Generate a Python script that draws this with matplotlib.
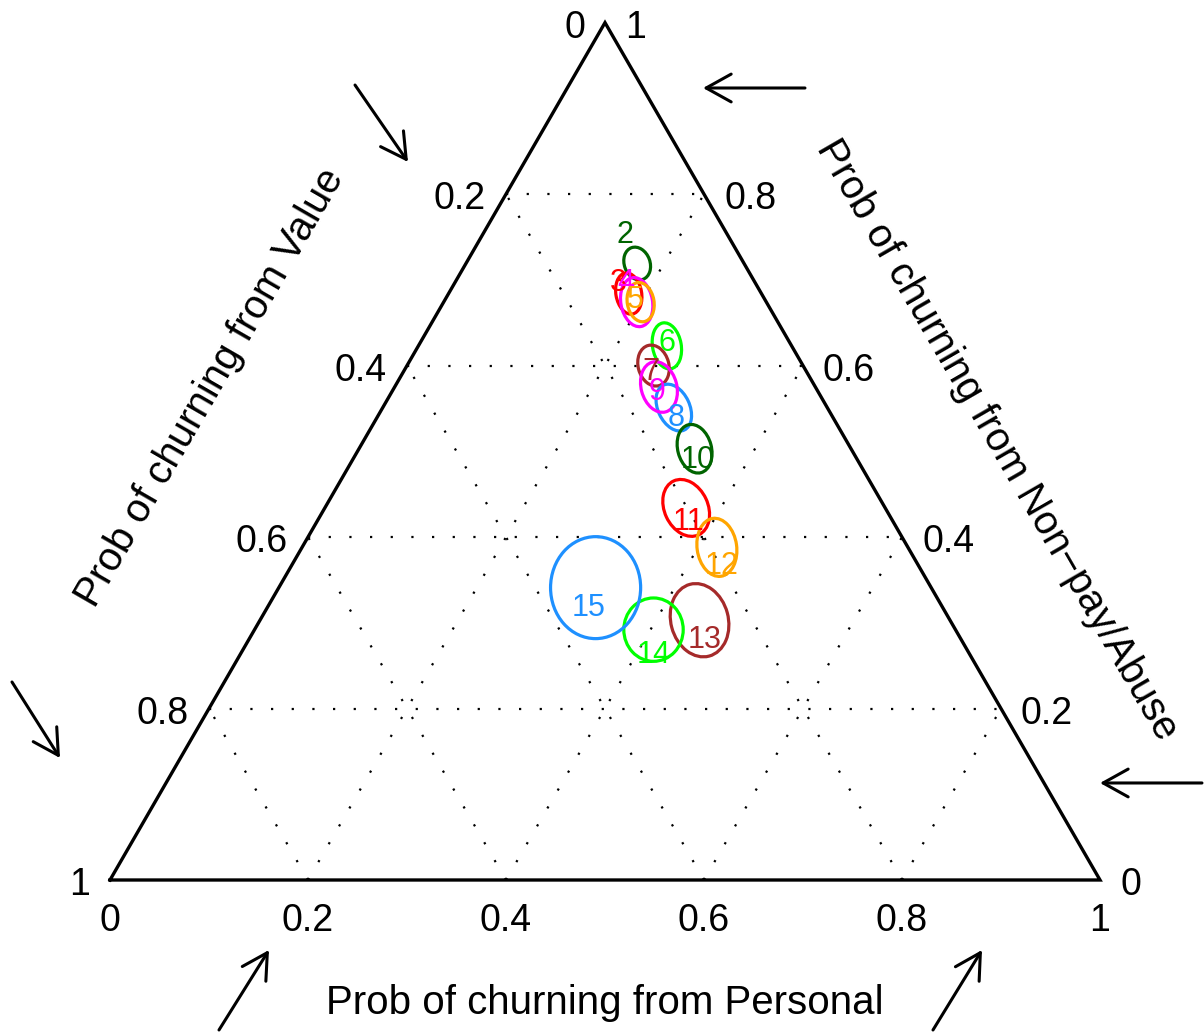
import numpy as np
import matplotlib.pyplot as plt
from matplotlib.patches import Ellipse

plt.rcParams["font.family"] = ["Liberation Sans", "DejaVu Sans"]

# churn groups drawn as contours; centres are (Personal, Non-pay/Abuse) shares,
# the Value share is whatever is left
groups = [2, 3, 4, 5, 6, 7, 8, 9, 10, 11, 12, 13, 14, 15]
personal = [0.173, 0.182, 0.195, 0.199, 0.251, 0.249, 0.294, 0.267,
            0.339, 0.365, 0.419, 0.444, 0.403, 0.320]
nonpay = [0.719, 0.684, 0.674, 0.674, 0.623, 0.600, 0.551, 0.575,
          0.503, 0.434, 0.388, 0.303, 0.292, 0.341]
# spread of each contour (across, along, in units of the triangle side) and tilt
spread_w = [0.026, 0.026, 0.032, 0.027, 0.029, 0.031, 0.032, 0.036,
            0.034, 0.044, 0.040, 0.058, 0.060, 0.091]
spread_h = [0.034, 0.042, 0.050, 0.040, 0.047, 0.042, 0.050, 0.052,
            0.050, 0.060, 0.059, 0.075, 0.064, 0.103]
tilt = [20, 10, 10, 10, 10, 15, 25, 15, 15, 25, 8, 15, 0, 0]

colors = ["#006400", "#FF0000", "#FF00FF", "#FFA500", "#00FF00", "#A52A2A",
          "#1E90FF", "#FF00FF", "#006400", "#FF0000", "#FFA500", "#A52A2A",
          "#00FF00", "#1E90FF"]
# where each contour label sits relative to its centre (pixels)
label_offsets = [(-12, 29), (-10, 11), (-11, 19), (-5, 2), (0, 3), (-3, -6),
                 (2, -10), (-2, -5), (3, -11), (2, -14), (5, -19), (5, -20),
                 (0, -25), (-7, -20)]

ticks = [0, 0.2, 0.4, 0.6, 0.8, 1]
tick_labels = ["0", "0.2", "0.4", "0.6", "0.8", "1"]

H = np.sqrt(3) / 2


def tern_xy(p, n):
    return p + n / 2, n * H


fig = plt.figure(figsize=(12.04, 10.34), dpi=100)
ax = fig.add_axes([0, 0, 1, 1])
ax.set_xlim(-110 / 990, 1094 / 990)
ax.set_ylim(-154 / 990, 880 / 990)
ax.set_aspect("equal")
ax.axis("off")

# dotted grid
for k in ticks[1:-1]:
    segs = [
        (tern_xy(0, k), tern_xy(1 - k, k)),       # Non-pay/Abuse = k
        (tern_xy(k, 0), tern_xy(k, 1 - k)),       # Personal = k
        (tern_xy(1 - k, 0), tern_xy(0, 1 - k)),   # Value = k
    ]
    for a, b in segs:
        ax.plot([a[0], b[0]], [a[1], b[1]], color="black", lw=1.6,
                linestyle=(0, (1, 8.3)), zorder=1)

# triangle outline
tri = np.array([tern_xy(0, 0), tern_xy(1, 0), tern_xy(0, 1), tern_xy(0, 0)])
ax.plot(tri[:, 0], tri[:, 1], color="black", lw=2.4, solid_joinstyle="miter",
        zorder=3)

# contours
for i, g in enumerate(groups):
    cx, cy = tern_xy(personal[i], nonpay[i])
    ax.add_patch(Ellipse((cx, cy), spread_w[i], spread_h[i], angle=tilt[i],
                         fill=False, ec=colors[i], lw=2.3, zorder=4))
    ax.annotate(str(g), (cx, cy), xytext=label_offsets[i],
                textcoords="offset pixels", ha="center", va="center",
                color=colors[i], fontsize=22, zorder=5)

# tick labels
tick_fs = 27
for t, lab in zip(ticks, tick_labels):
    # bottom axis: Personal
    ax.annotate(lab, tern_xy(t, 0), xytext=(0, -51), textcoords="offset pixels",
                ha="center", va="baseline", fontsize=tick_fs)
    # left axis: Value (0 at top, 1 at bottom-left)
    ax.annotate(lab, tern_xy(0, 1 - t), xytext=(-20, -15),
                textcoords="offset pixels", ha="right", va="baseline",
                fontsize=tick_fs)
    # right axis: Non-pay/Abuse (0 at bottom-right, 1 at top)
    ax.annotate(lab, tern_xy(1 - t, t), xytext=(20, -15),
                textcoords="offset pixels", ha="left", va="baseline",
                fontsize=tick_fs)

# axis titles
title_fs = 29
ax.text(0.5, -0.1354, "Prob of churning from Personal", ha="center",
        va="baseline", fontsize=title_fs)
ax.text(0.1010, 0.4970, "Prob of churning from Value", ha="center",
        va="center", rotation=60, rotation_mode="anchor", fontsize=title_fs)
ax.text(0.8960, 0.4444, "Prob of churning from Non\u2212pay/Abuse", ha="center",
        va="center", rotation=-60, rotation_mode="anchor", fontsize=title_fs)

# direction arrows
arrows = [
    ((0.2475, 0.8030), (0.3010, 0.7253)),
    ((-0.0990, 0.2000), (-0.0505, 0.1232)),
    ((0.7020, 0.8000), (0.5990, 0.8000)),
    ((1.1030, 0.0980), (1.0000, 0.0980)),
    ((0.1101, -0.1515), (0.1606, -0.0707)),
    ((0.8313, -0.1515), (0.8808, -0.0707)),
]
for tail, head in arrows:
    ax.annotate("", xy=head, xytext=tail,
                arrowprops=dict(arrowstyle="->,head_length=0.45,head_width=0.25",
                                lw=2.2, color="black", mutation_scale=40,
                                shrinkA=0, shrinkB=0))

fig.savefig("out.png", dpi=100)
